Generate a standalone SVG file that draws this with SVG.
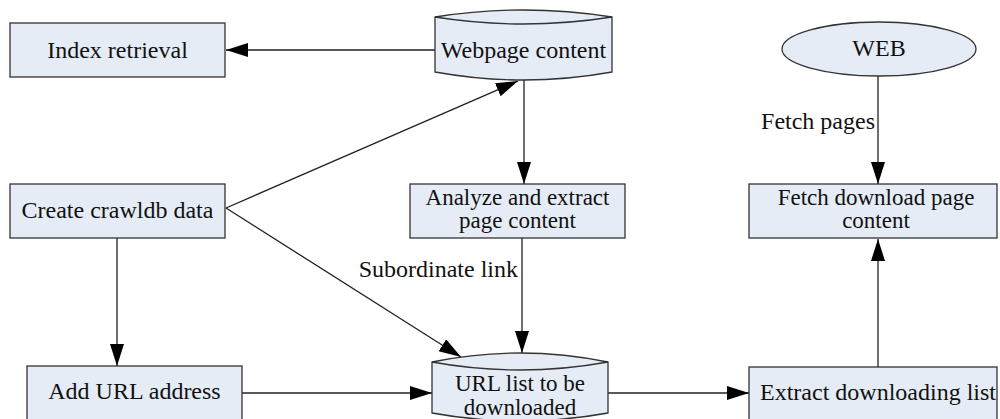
<svg xmlns="http://www.w3.org/2000/svg" width="1000" height="419" viewBox="0 0 1000 419" font-family="'Liberation Serif', 'Times New Roman', 'DejaVu Serif', serif">
  <defs>
    <marker id="arrow" markerUnits="userSpaceOnUse" markerWidth="24" markerHeight="16" refX="22" refY="7" orient="auto">
      <path d="M0,0 L22,7 L0,14 Z" fill="#000"/>
    </marker>
    <style>
      .box { fill: #e6ecf6; stroke: #333; stroke-width: 1.3; }
      .lbl { font-size: 24px; fill: #111; text-anchor: middle; }
      .lbl2 { font-size: 23px; fill: #111; text-anchor: middle; }
      .note { font-size: 24px; fill: #111; text-anchor: end; }
      .edge { stroke: #222; stroke-width: 1.3; fill: none; marker-end: url(#arrow); }
      .plain { stroke: #333; stroke-width: 1.3; fill: none; }
    </style>
  </defs>
  <rect width="1000" height="419" fill="#fff"/>

  <!-- connectors -->
  <g id="connectors">
    <line class="edge" x1="435" y1="50" x2="226" y2="50"/>
    <line class="edge" x1="226" y1="208" x2="518" y2="81"/>
    <line class="edge" x1="524" y1="80" x2="524" y2="184"/>
    <line class="edge" x1="226" y1="208" x2="461" y2="357"/>
    <line class="edge" x1="522" y1="238" x2="522" y2="353"/>
    <line class="edge" x1="117" y1="238" x2="117" y2="366"/>
    <line class="edge" x1="242" y1="393" x2="432" y2="393"/>
    <line class="edge" x1="608" y1="393" x2="749" y2="393"/>
    <line class="edge" x1="878" y1="367" x2="878" y2="239"/>
    <line class="edge" x1="878" y1="76" x2="878" y2="184"/>
    <text class="note" x="875" y="129">Fetch pages</text>
    <text class="note" x="518" y="277">Subordinate link</text>
  </g>

  <g id="index-retrieval">
    <rect class="box" x="10" y="23" width="215" height="54"/>
    <text class="lbl" x="117.5" y="58">Index retrieval</text>
  </g>

  <g id="webpage-content">
    <path class="box" d="M435,17 Q523.5,3 612,17 L612,72 Q523.5,88 435,72 Z"/>
    <path class="plain" d="M435,17 Q523.5,31 612,17"/>
    <text class="lbl" x="523.5" y="58">Webpage content</text>
  </g>

  <g id="web">
    <ellipse class="box" cx="879" cy="49" rx="97" ry="27"/>
    <text class="lbl" x="879" y="56">WEB</text>
  </g>

  <g id="create-crawldb">
    <rect class="box" x="10" y="184" width="215" height="54"/>
    <text class="lbl" x="117.5" y="218">Create crawldb data</text>
  </g>

  <g id="analyze">
    <rect class="box" x="410" y="184" width="215" height="54"/>
    <text class="lbl2" x="517.5" y="205">Analyze and extract</text>
    <text class="lbl2" x="517.5" y="228">page content</text>
  </g>

  <g id="fetch-download">
    <rect class="box" x="749" y="184" width="248" height="54"/>
    <text class="lbl2" x="876" y="205">Fetch download page</text>
    <text class="lbl2" x="876" y="228">content</text>
  </g>

  <g id="add-url">
    <rect class="box" x="27" y="366" width="215" height="60"/>
    <text class="lbl" x="134.5" y="399">Add URL address</text>
  </g>

  <g id="url-list">
    <path class="box" d="M432,362 Q520,344 608,362 L608,413 Q520,429 432,413 Z"/>
    <path class="plain" d="M432,362 Q520,378 608,362"/>
    <text class="lbl2" x="520" y="391">URL list to be</text>
    <text class="lbl2" x="520" y="415">downloaded</text>
  </g>

  <g id="extract-list">
    <rect class="box" x="749" y="367" width="248" height="60"/>
    <text class="lbl" x="878" y="400">Extract downloading list</text>
  </g>
</svg>
